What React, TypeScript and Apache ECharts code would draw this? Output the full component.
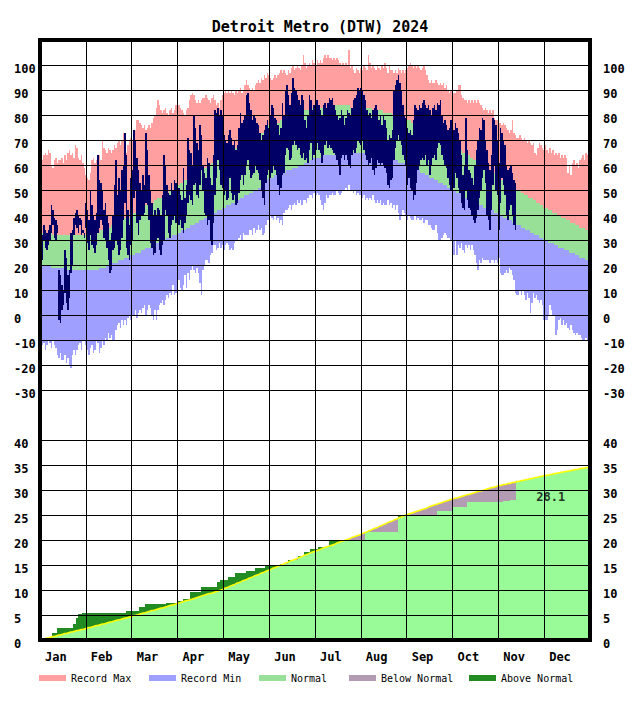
import React, { useEffect, useRef } from 'react';
import * as echarts from 'echarts';

// ---------- categories / ticks ----------
const MONTHS = ['Jan', 'Feb', 'Mar', 'Apr', 'May', 'Jun', 'Jul', 'Aug', 'Sep', 'Oct', 'Nov', 'Dec'];
const TITLE = 'Detroit Metro (DTW) 2024';

// ---------- daily temperature climatology (°F), Jan 1 .. Dec 31 (366 days) ----------
const normalHigh = [
  33,33,33,33,33,33,33,33,32,32,32,32,32,32,32,32,32,32,32,32,32,32,32,32,32,32,32,32,32,32,32,
  32,32,32,32,32,33,33,33,33,34,34,34,34,35,35,35,36,36,36,37,37,37,38,38,38,39,39,39,39,
  40,40,41,41,41,42,42,42,43,43,44,44,44,45,45,45,46,46,47,47,47,48,48,48,49,49,50,50,50,51,51,
  52,52,53,53,53,54,54,54,55,55,56,56,56,57,57,58,58,58,59,59,60,60,60,61,61,62,62,62,63,63,
  64,64,64,65,65,65,66,66,66,67,67,67,68,68,68,69,69,69,70,70,70,71,71,71,72,72,73,73,74,74,75,
  76,76,76,76,77,77,77,77,78,78,78,78,79,79,79,79,80,80,80,80,81,81,81,81,82,82,82,82,83,83,
  83,83,83,83,83,83,83,83,83,83,84,84,84,84,84,84,84,84,84,84,84,84,84,84,83,83,83,83,83,83,83,
  83,83,83,83,83,83,83,83,82,82,82,82,82,82,82,81,81,81,81,81,81,80,80,80,80,80,79,79,79,79,79,
  78,78,78,77,77,77,76,76,76,75,75,75,74,74,74,73,73,73,72,72,72,71,71,71,70,70,70,69,69,69,
  68,68,67,67,67,66,66,65,65,65,64,64,63,63,62,62,62,61,61,60,60,60,59,59,58,58,57,57,57,56,56,
  55,55,54,54,54,53,53,52,52,52,51,51,50,50,50,49,49,48,48,48,47,47,47,46,46,45,45,45,44,44,
  43,43,43,42,42,42,41,41,41,40,40,40,39,39,39,38,38,38,37,37,37,36,36,36,35,35,35,35,34,34,34,
];
const normalLow = [
  20,20,20,20,20,20,20,19,19,19,19,19,19,19,19,19,18,18,18,18,18,18,18,18,18,18,18,18,18,18,18,
  18,18,18,18,18,18,18,18,19,19,19,19,19,20,20,20,20,21,21,21,21,22,22,22,22,23,23,23,23,
  24,24,24,25,25,25,25,26,26,26,27,27,27,27,28,28,28,29,29,29,29,30,30,30,31,31,31,31,32,32,32,
  33,33,33,34,34,34,35,35,35,36,36,36,37,37,37,38,38,38,39,39,39,40,40,40,41,41,41,42,42,42,
  43,43,43,44,44,44,45,45,45,46,46,46,47,47,47,48,48,48,49,49,49,50,50,50,51,51,52,52,53,53,54,
  55,55,55,55,56,56,56,56,57,57,57,57,58,58,58,58,59,59,59,59,60,60,60,60,61,61,61,61,62,62,
  63,63,63,63,63,63,64,64,64,64,64,64,64,64,64,65,65,65,65,65,65,65,65,65,65,65,65,65,65,65,65,
  65,65,65,65,65,65,64,64,64,64,64,64,64,63,63,63,63,63,63,62,62,62,62,62,62,61,61,61,61,61,61,
  60,60,60,59,59,59,58,58,58,57,57,57,56,56,56,55,55,55,54,54,54,53,53,53,52,52,52,51,51,51,
  50,50,50,49,49,49,48,48,48,47,47,47,46,46,46,45,45,45,44,44,44,43,43,43,43,42,42,42,41,41,41,
  40,40,40,39,39,39,38,38,38,37,37,37,36,36,36,35,35,35,34,34,34,33,33,33,32,32,32,31,31,31,
  30,30,30,29,29,29,29,28,28,28,27,27,27,27,26,26,26,25,25,25,25,24,24,24,23,23,23,23,22,22,22,
];
const recordMax = [
  63,62,64,65,64,66,65,60,59,62,63,61,62,62,63,61,64,62,65,66,64,65,63,68,67,63,62,64,61,59,56,
  55,54,57,62,63,61,62,63,64,62,70,67,66,65,67,66,65,66,68,67,69,70,68,70,73,71,65,68,70,
  71,70,72,74,78,78,77,76,75,76,74,75,76,75,77,79,80,83,86,84,82,81,82,83,81,80,82,83,81,82,84,
  83,84,83,82,81,80,82,83,86,88,89,88,86,85,86,85,86,87,87,88,87,86,85,87,88,86,84,85,83,86,
  88,89,90,89,90,89,90,89,88,90,89,90,91,89,90,92,94,92,91,90,91,90,92,93,94,93,95,94,96,95,97,
  96,95,94,95,96,95,96,97,98,97,98,97,96,98,97,99,100,98,99,100,99,98,100,104,101,99,100,101,100,102,
  101,100,102,101,102,101,103,104,103,104,103,103,102,103,102,103,102,101,100,101,100,101,100,106,99,100,98,97,99,98,97,
  99,98,100,99,98,104,101,99,100,99,98,100,99,98,100,99,101,99,97,100,98,98,97,98,97,99,98,97,98,97,98,
  99,100,101,100,99,100,99,100,99,98,99,100,98,96,94,93,94,93,93,94,93,92,93,92,93,91,92,90,89,90,
  88,89,89,90,92,92,88,87,86,86,85,86,85,86,85,86,85,86,85,84,83,82,83,82,81,82,81,82,79,78,78,
  77,77,76,77,76,75,74,73,74,78,73,72,71,71,72,71,70,71,70,69,70,69,68,69,65,64,67,69,68,67,
  66,68,66,65,67,65,66,64,65,64,65,63,64,63,64,63,57,60,56,61,62,60,61,59,62,63,64,62,65,64,63,
];
const recordMin = [
  -10,-12,-11,-14,-12,-10,-11,-13,-10,-12,-13,-16,-17,-15,-18,-18,-16,-19,-17,-20,-21,-16,-14,-16,-14,-12,-11,-14,-10,-10,-12,
  -14,-16,-13,-12,-15,-14,-10,-11,-15,-13,-10,-12,-9,-10,-7,-9,-8,-10,-10,-6,-4,-3,-5,-2,-4,-2,-4,-1,0,
  -2,0,0,2,-1,1,2,1,3,4,0,2,4,3,0,-2,2,-2,2,4,5,6,4,6,8,7,9,8,12,8,9,
  14,14,11,10,12,16,11,17,14,18,20,18,17,19,17,13,8,18,20,22,22,21,24,25,28,28,26,27,29,27,
  28,26,28,29,28,26,27,26,29,30,30,31,32,30,33,32,32,32,34,34,32,35,33,34,36,34,35,32,33,36,38,
  38,40,39,38,40,38,39,37,38,36,41,42,42,43,44,42,44,45,44,46,45,46,44,46,46,45,47,48,48,47,
  49,48,49,48,46,44,42,45,48,47,48,48,49,48,48,50,49,48,49,50,50,51,50,52,50,50,49,50,48,49,48,
  48,47,48,46,47,46,47,46,48,46,45,46,45,46,44,45,44,44,46,44,45,43,44,42,44,41,38,40,42,41,40,
  38,40,39,38,38,40,38,39,38,38,39,37,38,38,36,36,35,34,34,36,33,30,30,31,32,33,32,31,31,30,
  25,24,30,24,28,27,29,26,25,28,27,28,26,28,26,24,21,18,22,21,23,22,22,22,22,21,22,22,21,22,21,
  23,17,16,16,17,18,17,19,18,16,14,9,8,8,10,8,10,8,6,9,7,1,5,9,7,8,6,5,6,4,
  -2,-2,-2,0,4,2,0,0,-8,-6,-2,-1,-4,-2,-4,-3,-5,-6,-4,-6,-7,-8,-7,-8,-8,-9,-10,-10,-9,-10,-10,
];

// ---------- 2024 observed daily high / low (°F), Jan 1 .. Nov 12 ----------
const actualHigh = [
  33,32,36,34,33,34,36,44,42,39,38,36,18,16,12,10,26,23,16,18,33,34,39,41,42,40,39,38,34,33,45,
  42,38,50,44,40,38,41,64,54,53,50,42,45,40,37,30,33,40,52,62,48,55,50,58,60,73,64,42,36,
  55,58,74,70,63,58,53,50,56,52,73,66,56,50,45,40,42,40,43,42,40,48,64,60,52,49,48,53,50,54,53,
  52,51,48,46,59,47,52,71,66,65,60,80,75,69,66,76,72,60,57,55,63,61,55,52,64,82,81,83,80,82,
  80,72,70,69,72,74,71,68,70,66,68,75,81,77,78,80,88,89,85,82,78,80,79,77,76,73,70,72,74,76,78,
  75,80,84,83,79,78,76,72,75,85,80,90,92,88,84,89,95,91,90,88,86,84,88,86,78,75,80,88,86,82,
  84,86,86,84,82,80,84,85,83,85,87,86,87,84,82,80,78,79,82,80,76,79,82,81,80,83,86,87,88,91,90,
  91,90,88,86,82,80,81,79,82,83,84,82,78,80,76,80,78,75,70,72,71,74,90,92,94,96,93,90,84,80,79,
  75,73,74,72,78,84,83,82,84,83,85,86,84,83,84,82,80,83,84,82,85,84,86,80,77,78,76,74,75,78,
  77,74,77,75,73,70,64,56,60,79,66,58,57,55,52,60,66,70,75,74,79,78,70,66,61,58,64,79,78,76,70,
  61,75,73,70,68,60,58,59,60,57,54,53,
];
const actualLow = [
  20,22,30,27,26,28,30,33,36,31,30,33,-2,-3,2,4,9,5,2,7,17,20,32,36,35,33,36,32,33,31,35,
  29,26,32,28,27,25,28,33,35,38,36,31,30,27,22,17,18,26,27,30,28,24,26,31,38,45,27,24,22,
  28,30,47,50,37,32,38,40,40,41,45,44,38,29,27,24,25,30,31,26,24,28,30,42,40,33,31,36,38,40,37,
  36,36,38,35,33,37,40,45,48,46,44,52,53,48,47,52,58,50,41,40,36,38,30,28,37,48,55,62,58,52,
  51,48,50,46,47,55,49,46,48,44,45,49,54,56,52,56,60,62,58,55,56,57,60,58,57,54,50,47,44,53,56,
  58,55,57,60,58,56,52,48,51,56,57,64,67,66,62,63,68,70,68,66,67,64,63,65,62,63,61,66,69,62,
  64,66,69,66,65,61,64,68,70,67,68,67,66,65,64,62,60,56,63,64,62,64,62,60,59,64,66,65,67,70,69,
  68,70,66,64,62,60,61,63,58,56,59,62,61,60,61,60,59,57,52,51,54,55,62,67,70,72,70,68,64,62,60,
  52,55,51,50,46,48,53,58,60,62,63,62,64,60,62,56,60,63,64,62,67,69,68,64,62,60,59,55,52,50,
  49,51,57,55,51,49,45,43,42,50,46,43,42,40,38,37,39,42,47,50,55,58,53,40,38,34,42,52,60,50,48,
  34,45,55,52,48,40,38,42,44,40,36,34,
];

// ---------- precipitation (inches) ----------
// normal cumulative precipitation, Jan 1 .. Dec 31
const normalPrecipCum = [
  0.1,0.1,0.2,0.3,0.4,0.4,0.5,0.6,0.7,0.7,0.8,0.9,1.0,1.0,1.1,1.2,1.3,1.3,1.4,1.5,1.6,1.6,1.7,1.8,1.9,1.9,2.0,2.1,2.1,2.2,2.3,
  2.4,2.5,2.5,2.6,2.7,2.8,2.9,2.9,3.0,3.1,3.2,3.2,3.3,3.4,3.5,3.6,3.6,3.7,3.8,3.9,4.0,4.0,4.1,4.2,4.3,4.4,4.4,4.5,4.6,
  4.7,4.8,4.9,4.9,5.0,5.1,5.2,5.3,5.4,5.4,5.5,5.6,5.7,5.8,5.9,5.9,6.0,6.1,6.2,6.3,6.4,6.4,6.5,6.6,6.7,6.8,6.9,7.0,7.0,7.1,7.2,
  7.3,7.4,7.5,7.6,7.7,7.8,7.9,7.9,8.0,8.1,8.2,8.3,8.4,8.5,8.6,8.7,8.8,8.9,9.0,9.1,9.2,9.3,9.3,9.4,9.5,9.6,9.7,9.8,9.9,10.0,
  10.1,10.3,10.4,10.5,10.6,10.8,10.9,11.0,11.1,11.3,11.4,11.5,11.6,11.8,11.9,12.0,12.1,12.3,12.4,12.5,12.6,12.8,12.9,13.0,13.1,13.3,13.4,13.5,13.6,13.8,13.9,
  14.0,14.1,14.3,14.4,14.5,14.6,14.8,14.9,15.0,15.1,15.3,15.4,15.5,15.6,15.8,15.9,16.0,16.1,16.2,16.4,16.5,16.6,16.7,16.9,17.0,17.1,17.2,17.4,17.5,17.6,
  17.7,17.8,17.9,18.0,18.1,18.3,18.4,18.5,18.6,18.7,18.8,18.9,19.0,19.1,19.2,19.4,19.5,19.6,19.7,19.8,19.9,20.0,20.1,20.2,20.3,20.5,20.6,20.7,20.8,20.9,21.0,
  21.1,21.3,21.4,21.5,21.6,21.8,21.9,22.0,22.2,22.3,22.4,22.5,22.7,22.8,22.9,23.1,23.2,23.3,23.5,23.6,23.7,23.8,24.0,24.1,24.2,24.4,24.5,24.6,24.7,24.9,25.0,
  25.1,25.2,25.3,25.4,25.5,25.6,25.7,25.8,25.9,26.0,26.1,26.2,26.3,26.4,26.6,26.7,26.8,26.9,27.0,27.1,27.2,27.3,27.4,27.5,27.6,27.7,27.8,27.9,28.0,28.1,
  28.2,28.3,28.4,28.4,28.5,28.6,28.7,28.8,28.9,29.0,29.1,29.1,29.2,29.3,29.4,29.5,29.6,29.7,29.8,29.8,29.9,30.0,30.1,30.2,30.3,30.4,30.5,30.5,30.6,30.7,30.8,
  30.9,30.9,31.0,31.1,31.1,31.2,31.3,31.3,31.4,31.5,31.5,31.6,31.7,31.7,31.8,31.9,31.9,32.0,32.1,32.1,32.2,32.3,32.3,32.4,32.5,32.5,32.6,32.7,32.7,32.8,
  32.9,32.9,33.0,33.0,33.1,33.1,33.2,33.3,33.3,33.4,33.4,33.5,33.6,33.6,33.7,33.7,33.8,33.8,33.9,34.0,34.0,34.1,34.1,34.2,34.3,34.3,34.4,34.4,34.5,34.5,34.6,
];
// observed 2024 rain days (day of year, 0 = Jan 1) and amounts
const rainDays = [1, 8, 11, 22, 24, 25, 28, 57, 66, 70, 84, 92, 95, 100, 107, 118, 120, 125, 130, 137, 143, 150, 160, 165, 172, 176, 180, 185, 192, 216, 238, 264, 274, 284, 308, 313];
const rainAmounts = [0.15, 1.2, 1.1, 0.85, 1.1, 0.8, 0.3, 0.3, 0.9, 0.55, 0.2, 0.3, 0.55, 1.3, 1.1, 0.9, 0.35, 0.6, 0.8, 0.4, 0.6, 0.5, 0.4, 0.8, 0.7, 0.8, 0.6, 0.5, 1.4, 1.6, 3.2, 1.0, 0.8, 0.9, 0.3, 0.25];

// ---------- style ----------
const FONT = '"DejaVu Sans Mono", "Liberation Mono", monospace';
const PINK = '#ff9f9f';
const BLUE = '#9f9fff';
const GREEN = '#98e098';
const LIGHT_GREEN = '#98fb98';
const NAVY = '#000066';
const DARK_GREEN = '#228b22';
const MAUVE = '#b39cb3';
const YELLOW = '#ffff00';

const PLOT_LEFT = 40;
const PLOT_WIDTH = 550;
const TOP_Y = 40;
const TEMP_H = 350;
const GAP_H = 50;
const PRECIP_H = 200;

// one pixel-snapped bar per day, from value[1] up to value[2]
const bandRender = (color: string) => (_params: any, api: any) => {
  const i = api.value(0);
  const a = api.coord([i, api.value(2)]);
  const b = api.coord([i + 1, api.value(1)]);
  const x0 = Math.round(a[0]);
  const x1 = Math.round(b[0]);
  const y0 = Math.round(a[1]);
  const y1 = Math.round(b[1]);
  return {
    type: 'rect',
    shape: { x: x0, y: y0, width: Math.max(x1 - x0, 1), height: Math.max(y1 - y0, 0) },
    style: { fill: color },
  };
};

export default function App() {
  const ref = useRef<HTMLDivElement>(null);

  useEffect(() => {
    if (!ref.current) return;
    const chart = echarts.init(ref.current, null, { renderer: 'svg' });

    const nDays = recordMax.length;
    const pinkData = recordMax.map((v, i) => [i, normalHigh[i], v]);
    const greenData = normalHigh.map((v, i) => [i, normalLow[i], v]);
    const blueData = normalLow.map((v, i) => [i, recordMin[i], v]);
    const actualData = actualHigh.map((v, i) => [i, actualLow[i], v]);

    const daily = actualHigh.map(() => 0);
    rainDays.forEach((d, k) => { daily[d] += rainAmounts[k]; });
    let run = 0;
    const actualCum = daily.map((v) => (run += v));
    const total = actualCum[actualCum.length - 1];

    const normalPrecipData = normalPrecipCum.map((v, i) => [i, 0, v]);
    const aboveData: number[][] = [];
    const belowData: number[][] = [];
    actualCum.forEach((a, i) => {
      const n = normalPrecipCum[i];
      if (a > n) aboveData.push([i, n, a]);
      else if (a < n) belowData.push([i, a, n]);
    });

    const custom = (name: string, data: number[][], color: string, xi: number, yi: number, z = 2) => ({
      type: 'custom',
      name,
      data,
      renderItem: bandRender(color),
      xAxisIndex: xi,
      yAxisIndex: yi,
      itemStyle: { color },
      encode: { x: 0, y: [1, 2] },
      clip: true,
      silent: true,
      z,
    });

    const tickLabel = { fontFamily: FONT, fontSize: 12, fontWeight: 'bold', color: '#000' };
    const gridLine = { show: true, lineStyle: { color: '#000', width: 1 } };
    const monthAxis = (gridIndex: number, labels: boolean) => ({
      type: 'value',
      gridIndex,
      min: 0,
      max: 12,
      interval: 1,
      position: 'bottom',
      axisLine: { show: false },
      axisTick: { show: false },
      axisLabel: labels
        ? {
            ...tickLabel,
            show: true,
            formatter: (v: number) => MONTHS[v] ?? '',
            align: 'left',
            padding: [0, 0, 0, 5],
            margin: 11,
            showMaxLabel: false,
          }
        : { show: false },
      splitLine: gridLine,
      z: 10,
    });
    const dayAxis = (gridIndex: number) => ({ type: 'value', gridIndex, min: 0, max: nDays, show: false });
    const valueAxis = (gridIndex: number, min: number, max: number, interval: number, side: string, hideAbove: number) => ({
      type: 'value',
      gridIndex,
      min,
      max,
      interval,
      position: side,
      axisLine: { show: false },
      axisTick: { show: false },
      axisLabel: {
        ...tickLabel,
        align: 'left',
        verticalAlign: 'top',
        lineHeight: 8,
        margin: side === 'left' ? 26 : 13,
        formatter: (v: number) => (v > hideAbove ? '' : String(v)),
      },
      splitLine: side === 'left' ? gridLine : { show: false },
      z: 10,
    });

    const legendItems = [
      { name: 'Record Max', left: 39 },
      { name: 'Record Min', left: 149 },
      { name: 'Normal', left: 259 },
      { name: 'Below Normal', left: 349 },
      { name: 'Above Normal', left: 469 },
    ];

    chart.setOption({
      animation: false,
      backgroundColor: '#fff',
      title: {
        text: TITLE,
        left: 'center',
        top: 14,
        textStyle: { fontFamily: FONT, fontSize: 15, fontWeight: 'bold', color: '#000' },
      },
      legend: legendItems.map((l) => ({
        data: [l.name],
        left: l.left,
        top: 673,
        padding: 0,
        icon: 'rect',
        itemWidth: 27,
        itemHeight: 6,
        selectedMode: false,
        textStyle: { fontFamily: FONT, fontSize: 10, color: '#000' },
      })),
      grid: [
        { left: PLOT_LEFT, top: TOP_Y, width: PLOT_WIDTH, height: TEMP_H },
        { left: PLOT_LEFT, top: TOP_Y + TEMP_H, width: PLOT_WIDTH, height: GAP_H },
        { left: PLOT_LEFT, top: TOP_Y + TEMP_H + GAP_H, width: PLOT_WIDTH, height: PRECIP_H },
      ],
      xAxis: [dayAxis(0), monthAxis(0, false), monthAxis(1, false), dayAxis(2), monthAxis(2, true)],
      yAxis: [
        valueAxis(0, -30, 110, 10, 'left', 100),
        valueAxis(0, -30, 110, 10, 'right', 100),
        { type: 'value', gridIndex: 1, min: 0, max: 1, show: false },
        valueAxis(2, 0, 40, 5, 'left', 40),
        valueAxis(2, 0, 40, 5, 'right', 40),
      ],
      graphic: [
        {
          type: 'rect',
          silent: true,
          z: 100,
          shape: { x: PLOT_LEFT, y: TOP_Y, width: PLOT_WIDTH, height: TEMP_H + GAP_H + PRECIP_H },
          style: { fill: 'none', stroke: '#000', lineWidth: 4 },
        },
      ],
      series: [
        custom('Record Max', pinkData, PINK, 0, 0),
        custom('Normal', greenData, GREEN, 0, 0),
        custom('Record Min', blueData, BLUE, 0, 0),
        custom('Actual', actualData, NAVY, 0, 0, 3),
        custom('Normal Precip', normalPrecipData, LIGHT_GREEN, 3, 3),
        custom('Below Normal', belowData, MAUVE, 3, 3),
        custom('Above Normal', aboveData, DARK_GREEN, 3, 3),
        {
          type: 'line',
          name: 'Normal Line',
          data: normalPrecipCum.map((v, i) => [i + 0.5, v]),
          xAxisIndex: 3,
          yAxisIndex: 3,
          symbol: 'none',
          silent: true,
          lineStyle: { color: YELLOW, width: 1.5 },
          z: 4,
        },
        {
          type: 'scatter',
          name: 'Total',
          data: [[actualCum.length, total]],
          xAxisIndex: 3,
          yAxisIndex: 3,
          symbolSize: 0,
          silent: true,
          z: 20,
          label: {
            show: true,
            position: 'right',
            distance: 20,
            offset: [0, -3],
            formatter: () => total.toFixed(1),
            fontFamily: FONT,
            fontSize: 12,
            fontWeight: 'bold',
            color: '#000',
          },
        },
      ],
    });

    return () => chart.dispose();
  }, []);

  return (
    <div
      ref={ref}
      style={{ position: 'fixed', left: 0, top: 0, width: 640, height: 720, background: '#fff' }}
    />
  );
}
